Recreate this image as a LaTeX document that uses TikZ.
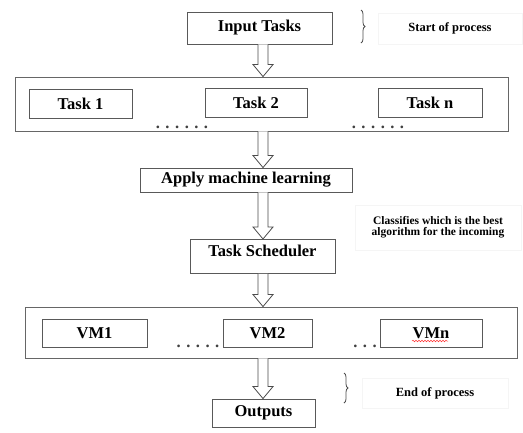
\documentclass[tikz,border=0pt]{standalone}
\usepackage{fontspec}
\setmainfont{Liberation Serif}
\usetikzlibrary{calc,decorations.pathreplacing,decorations.pathmorphing}

\tikzstyle{block}=[draw=black!65, line width=0.9pt, fill=white, inner sep=0pt, font=\fontsize{16.5}{18}\selectfont\bfseries]
\tikzstyle{group}=[draw=black!60, line width=0.9pt, inner sep=0pt]
\tikzstyle{note}=[draw=black!4, inner sep=0pt, align=center, font=\fontsize{12.5}{14}\selectfont\bfseries]
\tikzstyle{hollow}=[draw=black!70, line width=0.8pt, fill=white]
\tikzstyle{curly}=[draw=black!70, line width=0.8pt, decorate, decoration={brace, amplitude=4pt}]
\tikzstyle{dots}=[anchor=base, inner sep=0pt, text=black!75, font=\fontsize{16.5}{18}\selectfont\bfseries]
\tikzstyle{squiggle}=[red!80, line width=0.5pt, decorate, decoration={snake, amplitude=0.8pt, segment length=3pt}]

\newcommand{\hollowarrow}[2]{%
  \draw[hollow] ($(spine |- #1.south)+(-5,0)$) -- ($(spine |- #2.north)+(-5,-12)$)
    -- ++(-5,0) -- (spine |- #2.north) -- ($(spine |- #2.north)+(10,-12)$)
    -- ++(-5,0) -- ($(spine |- #1.south)+(5,0)$);}

\begin{document}
\begin{tikzpicture}[x=1pt, y=-1pt]
      \useasboundingbox (0,0) rectangle (523,432);
      \coordinate (spine) at (263,0);

      \node[block, minimum width=145, minimum height=32] (input) at (259.5,28) {Input Tasks};
      \node[note, minimum width=144, minimum height=31] (start) at (450,28.5) {Start of process};
      \draw[curly] (361,10) -- (361,43);

      \node[group, minimum width=493, minimum height=54] (tasks) at (261.5,104) {};
      \foreach \name/\x/\y/\w/\txt in {task1/80.5/103.5/103/Task 1, task2/256/102.5/102/Task 2, taskn/430/103/104/Task n} {%
        \node[block, minimum width=\w, minimum height=29] (\name) at (\x,\y) {\txt};
      }
      \node[dots] (dotsa) at (182,128) {. . . . . .};
      \node[dots] (dotsb) at (378,128) {. . . . . .};

      \node[block, minimum width=212, minimum height=24] (apply) at (246,180) {Apply machine learning};
      \node[note, minimum width=166, minimum height=45, font=\fontsize{11.5}{11}\selectfont\bfseries] (classify) at (438,227.5) {Classifies which is the best\\algorithm for the incoming};
      \node[block, minimum width=145, text height=12pt, text depth=12pt, inner ysep=5pt, anchor=north] (sched) at (262.5,239) {Task Scheduler};

      \node[group, minimum width=492, minimum height=51] (vms) at (271,332.5) {};
      \foreach \name/\x/\w/\txt in {vm1/94.5/105/VM1, vm2/267.5/89/VM2, vmn/431/102/VMn} {%
        \node[block, minimum width=\w, minimum height=28] (\name) at (\x,333) {\txt};
      }
      \draw[squiggle] ($(vmn.center)+(-19,8)$) -- ($(vmn.center)+(17,8)$);
      \node[dots] (dotsc) at (198,347) {. . . . .};
      \node[dots] (dotsd) at (365,347) {. . .};

      \node[block, minimum width=103, minimum height=28] (outputs) at (263.5,413) {Outputs};
      \node[note, minimum width=146, minimum height=30] (finish) at (435,393) {End of process};
      \draw[curly] (344,373) -- (344,403);

      \hollowarrow{input}{tasks}
      \hollowarrow{tasks}{apply}
      \hollowarrow{apply}{sched}
      \hollowarrow{sched}{vms}
      \hollowarrow{vms}{outputs}
    \end{tikzpicture}
\end{document}
